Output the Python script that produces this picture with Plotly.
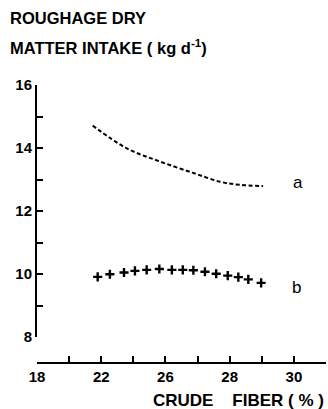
import numpy as np
import plotly.graph_objects as go

# tick labels on the x axis (labelled every second tick)
x_tick_labels = ["18", "22", "26", "28", "30"]
x_label_values = [18, 22, 26, 28, 30]
x_label_positions = [0, 2, 4, 6, 8]

y_tick_values = [8, 9, 10, 11, 12, 13, 14, 15, 16]
y_tick_labels = ["8", " ", "10", " ", "12", " ", "14", " ", "16"]

# curve a (dashed)
fiber_a = [21.47, 23.59, 25.66, 26.86, 27.70, 28.32, 29.04]
intake_a = [14.71, 13.99, 13.57, 13.21, 12.93, 12.83, 12.79]

# curve b (plus markers)
fiber_b = [21.78, 22.54, 23.42, 24.10, 24.83, 25.62, 26.20, 26.54, 26.87,
           27.23, 27.58, 27.94, 28.27, 28.58, 28.98]
intake_b = [9.91, 9.99, 10.05, 10.10, 10.13, 10.16, 10.13, 10.13, 10.12,
            10.07, 10.01, 9.95, 9.90, 9.83, 9.72]

def pos(v):
    return np.interp(v, x_label_values, x_label_positions)

FONT = "Liberation Sans, Arial, sans-serif"

fig = go.Figure()
fig.add_trace(go.Scatter(x=pos(fiber_a), y=intake_a, mode="lines",
                         line=dict(color="black", width=2, dash="4px,2.5px",
                                   shape="spline", smoothing=1.0),
                         showlegend=False))
fig.add_trace(go.Scatter(x=pos(fiber_b), y=intake_b, mode="markers",
                         marker=dict(symbol="cross-thin", size=6.5, color="black",
                                     line=dict(color="black", width=2.4)),
                         showlegend=False))

xt_vals = list(range(10))
xt_text = []
for i in xt_vals:
    if i in x_label_positions:
        xt_text.append(x_tick_labels[x_label_positions.index(i)])
    else:
        xt_text.append(" ")

fig.update_layout(
    width=328, height=409,
    margin=dict(l=37, r=2, t=85, b=46),
    paper_bgcolor="white", plot_bgcolor="white",
    font=dict(family=FONT, color="black", size=14),
    xaxis=dict(range=[0, 9], tickmode="array", tickvals=xt_vals, ticktext=xt_text,
               ticks="inside", ticklen=6, tickwidth=2, tickcolor="#000000",
               showline=True, linewidth=2, linecolor="black",
               showgrid=False, zeroline=False, anchor="free", position=0,
               tickfont=dict(size=15, weight=600)),
    yaxis=dict(range=[8, 16], domain=[0.0935, 1],
               tickvals=y_tick_values, ticktext=y_tick_labels,
               ticks="inside", ticklen=6, tickwidth=2, tickcolor="#000000",
               showline=True, linewidth=2, linecolor="black",
               showgrid=False, zeroline=False, tickfont=dict(size=15, weight=600)),
    annotations=[
        dict(text="ROUGHAGE DRY", xref="paper", yref="paper",
             x=(8 - 37) / 289, y=(363 - 18) / 278, xanchor="left", yanchor="middle",
             showarrow=False, font=dict(size=16.5, weight=600)),
        dict(text="MATTER INTAKE ( kg d<sup>-1</sup>)", xref="paper", yref="paper",
             x=(8 - 37) / 289, y=(363 - 47) / 278, xanchor="left", yanchor="middle",
             showarrow=False, font=dict(size=16.5, weight=600)),
        dict(text="CRUDE&nbsp;&nbsp;&nbsp;&nbsp;FIBER ( % )", xref="paper", yref="paper",
             x=1, y=(363 - 400) / 278, xanchor="right", yanchor="middle",
             showarrow=False, font=dict(size=17, weight=600)),
        dict(text="a", x=pos(29.04) + 1.1, y=12.89, xref="x", yref="y",
             showarrow=False, font=dict(size=17)),
        dict(text="b", x=pos(28.98) + 1.1, y=9.56, xref="x", yref="y",
             showarrow=False, font=dict(size=17)),
    ],
)

fig.write_html("out.html")
